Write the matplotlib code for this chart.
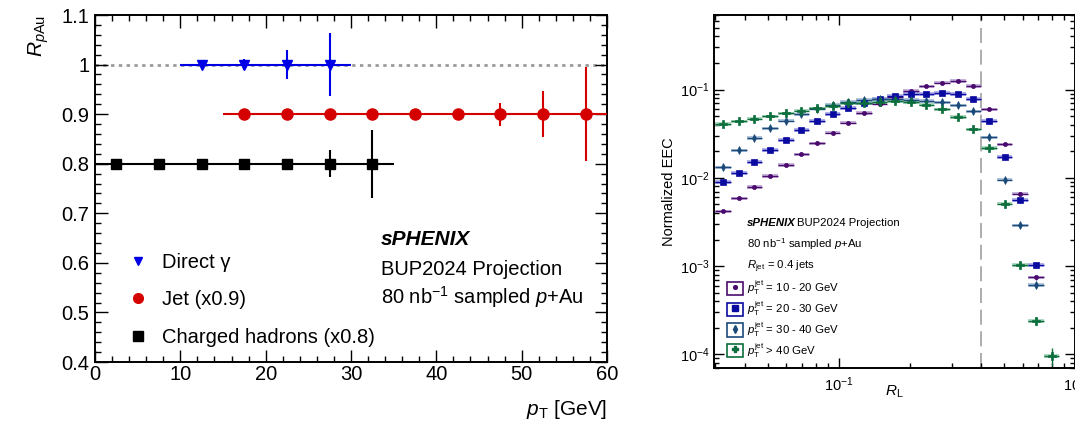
import numpy as np
import matplotlib
matplotlib.use('Agg')
import matplotlib.pyplot as plt
from matplotlib.patches import Rectangle
from matplotlib.lines import Line2D
from matplotlib.legend_handler import HandlerTuple
from matplotlib.ticker import MultipleLocator, LogLocator, NullFormatter, FixedLocator, FixedFormatter

plt.rcParams['font.family'] = ['Liberation Sans', 'DejaVu Sans']
plt.rcParams['mathtext.fontset'] = 'custom'
plt.rcParams['mathtext.rm'] = 'Liberation Sans'
plt.rcParams['mathtext.it'] = 'Liberation Sans:italic'
plt.rcParams['mathtext.bf'] = 'Liberation Sans:bold'

nan = np.nan

# ---------------- Left panel data: R_pAu projections ----------------
gamma_pt = [12.5, 17.5, 22.5, 27.5]
gamma_r = [1.0, 1.0, 1.0, 1.0]
gamma_err = [0.003, 0.011, 0.029, 0.064]

jet_pt = [17.5, 22.5, 27.5, 32.5, 37.5, 42.5, 47.5, 52.5, 57.5]
jet_r = [0.9, 0.9, 0.9, 0.9, 0.9, 0.9, 0.9, 0.9, 0.9]
jet_err = [0.002, 0.002, 0.003, 0.004, 0.005, 0.009, 0.023, 0.046, 0.095]

had_pt = [2.5, 7.5, 12.5, 17.5, 22.5, 27.5, 32.5]
had_r = [0.8, 0.8, 0.8, 0.8, 0.8, 0.8, 0.8]
had_err = [0.001, 0.001, 0.002, 0.003, 0.008, 0.027, 0.069]

pt_half_width = 2.5

# ---------------- Right panel data: normalized EEC ----------------
rl_edges = [0.03, 0.03494, 0.04070, 0.04741, 0.05521, 0.06430, 0.07489,
            0.08721, 0.10158, 0.11832, 0.13782, 0.16050, 0.18691, 0.21768,
            0.25354, 0.29533, 0.34393, 0.40063, 0.46665, 0.54345, 0.63297,
            0.73717, 0.85860, 1.0]

eec_10_20 = [0.00417, 0.00586, 0.00787, 0.01048, 0.01397, 0.01846, 0.0246,
             0.0325, 0.0423, 0.0542, 0.0694, 0.0818, 0.0962, 0.109, 0.120,
             0.125, 0.110, 0.0598, 0.0240, 0.00664, 0.000745, nan, nan]
eec_20_30 = [0.00896, 0.01133, 0.0151, 0.0207, 0.0268, 0.0349, 0.0441,
             0.0529, 0.0618, 0.0708, 0.0791, 0.0846, 0.0896, 0.0891, 0.0915,
             0.0896, 0.078, 0.0441, 0.0172, 0.0056, 0.00103, nan, nan]
eec_30_40 = [0.01315, 0.0205, 0.0284, 0.0364, 0.0446, 0.0525, 0.061,
             0.0673, 0.0723, 0.076, 0.0782, 0.0776, 0.0766, 0.0746, 0.0718,
             0.0664, 0.0565, 0.0288, 0.00955, 0.00289, 0.00061, nan, nan]
eec_40_up = [0.0407, 0.0438, 0.0469, 0.0498, 0.0538, 0.0578, 0.0614,
             0.0652, 0.070, 0.0709, 0.0727, 0.0733, 0.0723, 0.0677, 0.0598,
             0.0489, 0.0353, 0.0218, 0.00509, 0.00103, 0.00024, 0.0000955, nan]

# relative statistical uncertainties
err_10_20 = [0.01] * 17 + [0.02, 0.03, 0.04, 0.06, nan, nan]
err_20_30 = [0.01] * 17 + [0.02, 0.03, 0.04, 0.06, nan, nan]
err_30_40 = [0.01] * 17 + [0.02, 0.03, 0.05, 0.08, nan, nan]
err_40_up = [0.01] * 17 + [0.02, 0.04, 0.06, 0.10, 0.22, nan]

eec_labels = [r'$p_{\mathrm{T}}^{\mathrm{jet}}$ = 10 - 20 GeV',
              r'$p_{\mathrm{T}}^{\mathrm{jet}}$ = 20 - 30 GeV',
              r'$p_{\mathrm{T}}^{\mathrm{jet}}$ = 30 - 40 GeV',
              r'$p_{\mathrm{T}}^{\mathrm{jet}}$ > 40 GeV']

# ---------------- Figure ----------------
fig = plt.figure(figsize=(10.75, 4.25), dpi=100)
W, H = 1075.0, 425.0

ax1 = fig.add_axes([95 / W, 1 - 362 / H, 512 / W, 347 / H])
ax2 = fig.add_axes([714 / W, 1 - 368 / H, (1075 - 714) / W, 353 / H])

# ---- left panel ----
ax1.axhline(1.0, color='#9a9a9a', ls=(0, (1.2, 1.6)), lw=2.0, zorder=1)

ax1.errorbar(had_pt, had_r, yerr=had_err, xerr=pt_half_width, fmt='s',
             color='black', ms=7.5, lw=1.5, capsize=0, zorder=3)
ax1.errorbar(jet_pt, jet_r, yerr=jet_err, xerr=pt_half_width, fmt='o',
             color='#d40000', ms=8, lw=1.5, capsize=0, zorder=3)
ax1.errorbar(gamma_pt, gamma_r, yerr=gamma_err, xerr=pt_half_width, fmt='v',
             color='#0000e6', ms=7, lw=1.5, capsize=0, zorder=4)

ax1.set_xlim(0, 60)
ax1.set_ylim(0.4, 1.1)
ax1.xaxis.set_major_locator(MultipleLocator(10))
ax1.xaxis.set_minor_locator(MultipleLocator(2))
ax1.yaxis.set_major_locator(FixedLocator([0.4, 0.5, 0.6, 0.7, 0.8, 0.9, 1.0, 1.1]))
ax1.yaxis.set_major_formatter(FixedFormatter(['0.4', '0.5', '0.6', '0.7', '0.8', '0.9', '1', '1.1']))
ax1.yaxis.set_minor_locator(MultipleLocator(0.02))
ax1.tick_params(which='both', direction='in', top=True, right=True, labelsize=14.5)
ax1.tick_params(which='major', length=9, width=1.0)
ax1.tick_params(which='minor', length=4.5, width=1.0)
ax1.tick_params(axis='x', pad=2)
ax1.tick_params(axis='y', pad=4)
for s in ax1.spines.values():
    s.set_linewidth(1.4)

ax1.set_xlabel(r'$p_{\mathrm{T}}$ [GeV]', fontsize=15, loc='right')
ax1.xaxis.set_label_coords(1.0, -0.105)
ax1.set_ylabel(r'$R_{p\mathrm{Au}}$', fontsize=15, loc='top')
ax1.yaxis.set_label_coords(-0.085, 1.0)

leg1_h = [Line2D([], [], ls='none', marker='v', color='#0000e6', ms=6),
          Line2D([], [], ls='none', marker='o', color='#d40000', ms=7),
          Line2D([], [], ls='none', marker='s', color='black', ms=6.5)]
leg1_l = ['Direct γ', 'Jet (x0.9)', 'Charged hadrons (x0.8)']
ax1.legend(leg1_h, leg1_l, loc='lower left', bbox_to_anchor=(0.06, 0.043),
           frameon=False, fontsize=14.5, handlelength=1.2, handletextpad=0.6,
           labelspacing=0.93, borderpad=0, borderaxespad=0)

ax1.text(0.559, 0.352, 'sPHENIX', transform=ax1.transAxes, fontsize=15,
         fontweight='bold', fontstyle='italic', va='center', ha='left')
ax1.text(0.559, 0.266, 'BUP2024 Projection', transform=ax1.transAxes,
         fontsize=14.5, va='center', ha='left')
ax1.text(0.559, 0.188, r'80 nb$^{-1}$ sampled $p$+Au', transform=ax1.transAxes,
         fontsize=14.5, va='center', ha='left')

# ---- right panel ----
edges = np.array(rl_edges)
centers = np.sqrt(edges[:-1] * edges[1:])
xlo = centers - edges[:-1]
xhi = edges[1:] - centers

series = [
    (eec_10_20, err_10_20, '#4b0a6e', '#b39bd0', 'o', 3.0),
    (eec_20_30, err_20_30, '#0a0aa0', '#9a9ae6', 's', 4.2),
    (eec_30_40, err_30_40, '#1a4a7a', '#98b2d0', 'd', 4.2),
    (eec_40_up, err_40_up, '#0b6e3c', '#93cbab', 'P', 5.2),
]
for vals, rel, c, lc, m, ms in series:
    v = np.array(vals, dtype=float)
    r = np.array(rel, dtype=float)
    ok = ~np.isnan(v)
    sys_rel = 0.045
    ax2.bar(edges[:-1][ok], (v * 2 * sys_rel)[ok], width=(edges[1:] - edges[:-1])[ok],
            bottom=(v * (1 - sys_rel))[ok], align='edge', color=lc, alpha=0.75,
            edgecolor='none', zorder=2)
    ax2.errorbar(centers[ok], v[ok], xerr=[xlo[ok], xhi[ok]], yerr=(v * r)[ok],
                 fmt=m, color=c, ms=ms, lw=1.0, capsize=0, zorder=3,
                 markeredgewidth=0.5)

ax2.axvline(0.4, color='#a0a0a0', ls=(0, (9, 4)), lw=1.2, zorder=1)

ax2.set_xscale('log')
ax2.set_yscale('log')
ax2.set_xlim(0.0296, 1.0)
ax2.set_ylim(7e-5, 0.7)
ax2.xaxis.set_major_locator(LogLocator(base=10, numticks=10))
ax2.xaxis.set_minor_locator(LogLocator(base=10, subs=np.arange(2, 10), numticks=20))
ax2.xaxis.set_minor_formatter(NullFormatter())
ax2.yaxis.set_major_locator(LogLocator(base=10, numticks=10))
ax2.yaxis.set_minor_locator(LogLocator(base=10, subs=np.arange(2, 10), numticks=20))
ax2.yaxis.set_minor_formatter(NullFormatter())
ax2.tick_params(which='both', direction='in', top=True, right=True, labelsize=10.5)
ax2.tick_params(which='major', length=7, width=1.0)
ax2.tick_params(which='minor', length=3.5, width=1.0)
ax2.tick_params(axis='x', pad=5)
ax2.tick_params(axis='y', pad=3)
for s in ax2.spines.values():
    s.set_linewidth(1.4)

ax2.set_xlabel(r'$R_{\mathrm{L}}$', fontsize=11)
ax2.xaxis.set_label_coords(0.5, -0.045)
ax2.set_ylabel('Normalized EEC', fontsize=10.5)
ax2.yaxis.set_label_coords(-0.105, 0.5)

tx = 0.091
ax2.text(tx, 0.41, 'sPHENIX', transform=ax2.transAxes, fontsize=8.2,
         fontweight='bold', fontstyle='italic', va='center', ha='left')
ax2.text(0.23, 0.41, 'BUP2024 Projection', transform=ax2.transAxes,
         fontsize=8.2, va='center', ha='left')
ax2.text(tx, 0.35, r'80 nb$^{-1}$ sampled $p$+Au', transform=ax2.transAxes,
         fontsize=8.2, va='center', ha='left')
ax2.text(tx, 0.286, r'$R_{\mathrm{jet}}$ = 0.4 jets', transform=ax2.transAxes,
         fontsize=8.2, va='center', ha='left')

leg_handles = []
for vals, rel, c, lc, m, ms in series:
    box = Rectangle((0, 0), 1, 1, facecolor='none', edgecolor=c, linewidth=1.2)
    mk = Line2D([], [], ls='none', marker=m, color=c, ms=ms * 0.9)
    leg_handles.append((box, mk))
ax2.legend(leg_handles, eec_labels, handler_map={tuple: HandlerTuple(ndivide=1, pad=0)},
           loc='lower left', bbox_to_anchor=(0.036, 0.024), frameon=False,
           fontsize=8.2, handlelength=1.4, handleheight=1.4, handletextpad=0.35,
           labelspacing=0.24, borderpad=0, borderaxespad=0)

fig.savefig('out.png', dpi=100)
